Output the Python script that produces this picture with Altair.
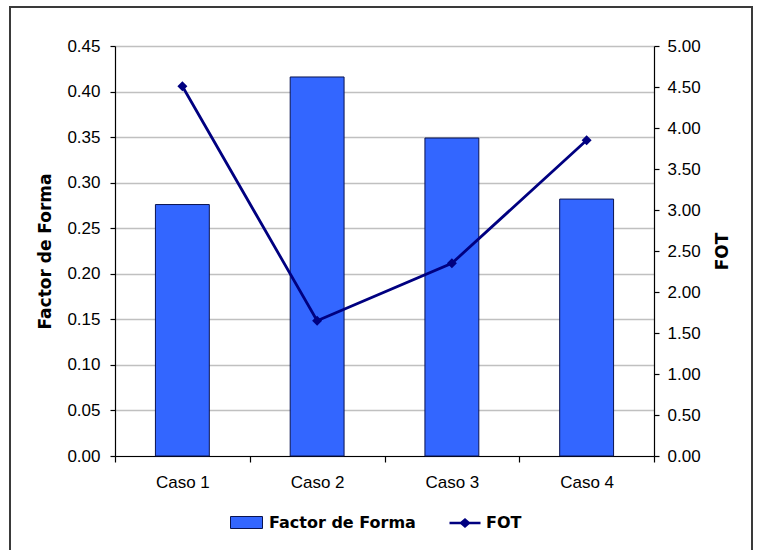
import altair as alt
import pandas as pd

# Category labels and series values
casos = ["Caso 1", "Caso 2", "Caso 3", "Caso 4"]
factor_forma = [0.276, 0.416, 0.349, 0.282]
fot = [4.51, 1.65, 2.35, 3.85]

# Axis tick labels
ticks_ff = [0.00, 0.05, 0.10, 0.15, 0.20, 0.25, 0.30, 0.35, 0.40, 0.45]
ticks_fot = [0.0, 0.5, 1.0, 1.5, 2.0, 2.5, 3.0, 3.5, 4.0, 4.5, 5.0]

df = pd.DataFrame({
    "caso": casos,
    "ff": factor_forma,
    "fot": fot,
    "serie_ff": ["Factor de Forma"] * len(casos),
    "serie_fot": ["FOT"] * len(casos),
})

W, H = 539, 410
PAD = {"left": 115, "top": 46, "right": 103, "bottom": 94}

BAR_COLOR = "#3366FF"
BAR_EDGE = "#0a1450"
LINE_COLOR = "#000080"

x_enc = alt.X(
    "caso:N",
    sort=casos,
    scale=alt.Scale(paddingInner=0, paddingOuter=0),
    axis=alt.Axis(
        title=None, labelAngle=0, tickBand="extent", tickSize=6,
        labelPadding=12, grid=False,
    ),
)

bars = alt.Chart(df).mark_bar(
    width=alt.RelativeBandSize(0.4), stroke=BAR_EDGE, strokeWidth=1
).encode(
    x=x_enc,
    y=alt.Y(
        "ff:Q",
        scale=alt.Scale(domain=[0, 0.45], nice=False, zero=True),
        axis=alt.Axis(
            values=ticks_ff, format=".2f", grid=True, gridColor="#c0c0c0",
            gridWidth=1.5, tickSize=5, labelPadding=10,
            title="Factor de Forma", titleAngle=270, titleX=-70, titleY=H / 2,
            titleAlign="center", titleBaseline="middle",
        ),
    ),
    color=alt.Color(
        "serie_ff:N",
        scale=alt.Scale(domain=["Factor de Forma"], range=[BAR_COLOR]),
        legend=alt.Legend(
            title=None, orient="none", legendX=115, legendY=460,
            symbolType="M-1,-0.375H1V0.375H-1Z", symbolSize=1024,
            symbolStrokeColor=BAR_EDGE, symbolStrokeWidth=1,
            labelOffset=6, padding=0,
        ),
    ),
)

line = alt.Chart(df).mark_line(
    strokeWidth=2.8,
    point=alt.OverlayMarkDef(shape="diamond", size=100, filled=True),
).encode(
    x=x_enc,
    y=alt.Y(
        "fot:Q",
        scale=alt.Scale(domain=[0, 5], nice=False, zero=True),
        axis=alt.Axis(
            orient="right", values=ticks_fot, format=".2f", grid=False,
            tickSize=5, labelPadding=8,
            title="FOT", titleAngle=270, titleX=68, titleY=H / 2,
            titleAlign="center", titleBaseline="middle",
        ),
    ),
    color=alt.Color(
        "serie_fot:N",
        scale=alt.Scale(domain=["FOT"], range=[LINE_COLOR]),
        legend=alt.Legend(
            title=None, orient="none", legendX=333, legendY=460,
            symbolType="M-1,0H1M-0.25,0L0,-0.22L0.25,0L0,0.22Z",
            symbolSize=961, symbolStrokeWidth=2.5,
            symbolFillColor=LINE_COLOR, symbolStrokeColor=LINE_COLOR,
            labelOffset=4, padding=0,
        ),
    ),
)

# Frame around the whole chart
frame = alt.Chart(pd.DataFrame({"k": [0]})).mark_rect(
    filled=False, stroke="#3a3a3a", strokeWidth=2
).encode(
    x=alt.value(10 - PAD["left"]),
    x2=alt.value(752 - PAD["left"]),
    y=alt.value(7 - PAD["top"]),
    y2=alt.value(570 - PAD["top"]),
)

chart = (
    alt.layer(bars, line, frame)
    .resolve_scale(y="independent", color="independent")
    .properties(width=W, height=H, padding=PAD, autosize=alt.AutoSizeParams(type="none"),
                background="white")
    .configure_view(stroke=None)
    .configure_axis(
        domainColor="black", tickColor="black", labelColor="black",
        labelFont="Liberation Sans", labelFontSize=17,
        titleFont="DejaVu Sans", titleFontWeight="bold", titleFontSize=17,
        titleColor="black", domainWidth=1.2, tickWidth=1.2,
    )
    .configure_legend(
        labelFont="DejaVu Sans", labelFontWeight="bold", labelFontSize=16,
        labelColor="black",
    )
)

chart.save("out.html", embed_options={"renderer": "svg", "actions": False})
